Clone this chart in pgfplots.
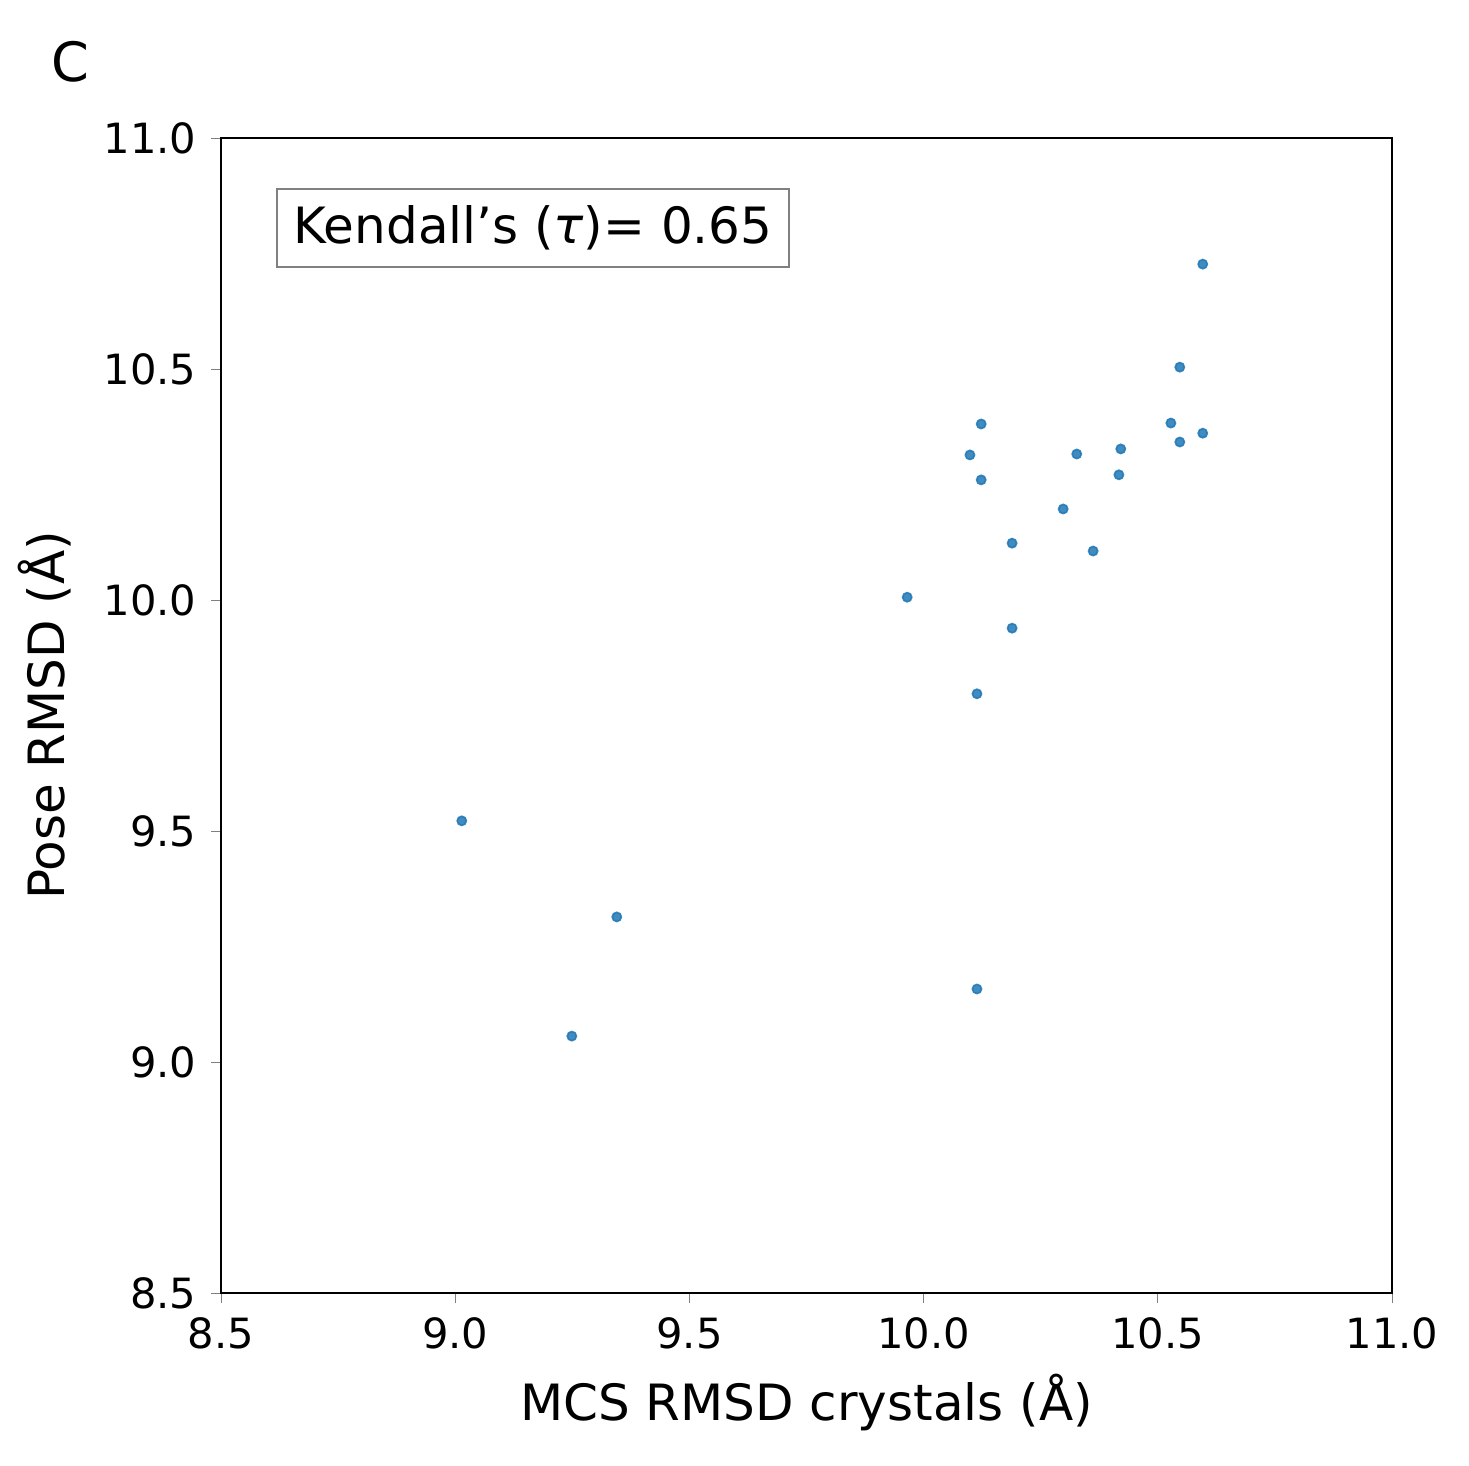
\documentclass[border=0pt]{standalone}
\usepackage{pgfplots}
\pgfplotsset{compat=1.18}
\usepackage{fontspec}
\setmainfont{DejaVu Sans}
\definecolor{mplblue}{HTML}{1F77B4}
\begin{document}
\begin{tikzpicture}[x=0.24pt,y=0.24pt]
\path (-221,-173) rectangle ++(1469,1466);
\begin{axis}[at={(0,0)},anchor=south west,scale only axis,
  width=281.04pt,height=277.2pt,
  xmin=8.5,xmax=11,ymin=8.5,ymax=11,
  xtick={8.5,9,...,11},ytick={8.5,9,...,11},
  /pgf/number format/.cd,fixed,fixed zerofill,precision=1,assume math mode=true,
  /pgfplots/.cd,
  tick label style={font=\fontsize{10}{12}\selectfont},
  label style={font=\fontsize{12}{14}\selectfont},
  tick align=outside,tick pos=left,major tick length=2.4pt,
  xlabel={MCS RMSD crystals (Å)},ylabel={Pose RMSD (Å)},
  xlabel style={yshift=1pt},ylabel style={yshift=1pt},
  axis line style={line width=0.3pt}]
\addplot[only marks,mark=*,mark size=1.1pt,color=mplblue,fill opacity=0.85,draw opacity=0.85] coordinates {
(9.014,9.522)(9.345,9.314)(9.249,9.056)(10.114,9.158)(10.114,9.797)
(10.189,9.939)(9.965,10.006)(10.189,10.123)(10.298,10.197)(10.362,10.106)
(10.123,10.260)(10.099,10.314)(10.123,10.381)(10.327,10.316)(10.417,10.271)
(10.421,10.327)(10.528,10.383)(10.547,10.342)(10.547,10.504)(10.596,10.361)
(10.596,10.727)};
\node[draw=gray,line width=0.6pt,fill=white,inner sep=4pt,font=\fontsize{12}{14}\selectfont] at (axis cs:9.166,10.805) {Kendall\char"0027 s ({\itshape τ})= 0.65};
\end{axis}
\node[font=\fontsize{13}{15}\selectfont] at (-151,1231) {C};
\end{tikzpicture}
\end{document}
